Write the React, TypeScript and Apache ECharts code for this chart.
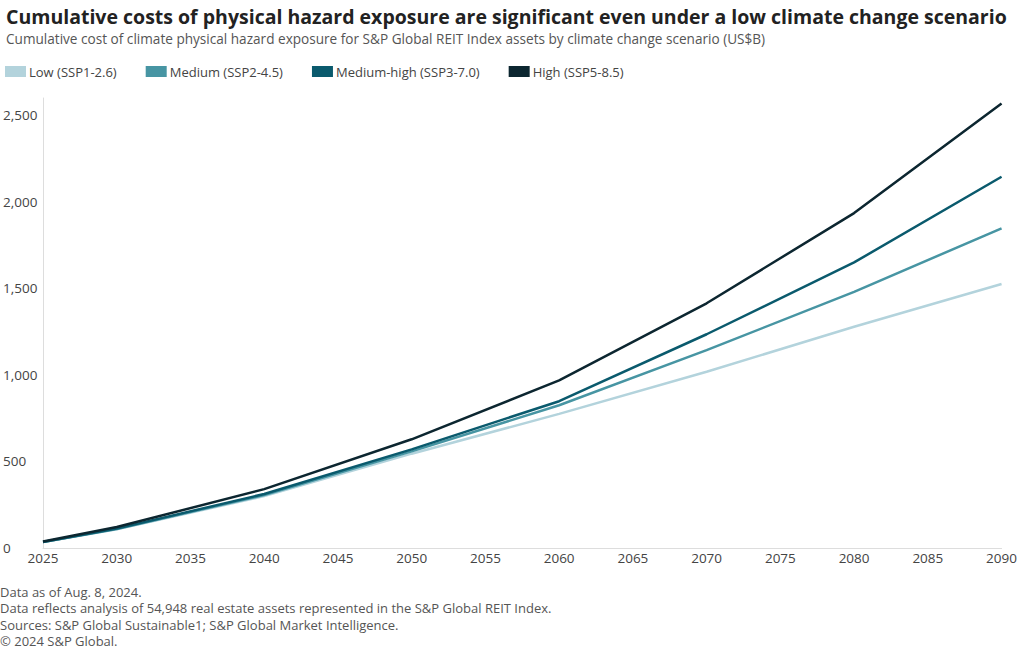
import React, { useEffect, useRef } from "react";
import * as echarts from "echarts";

const years = [2025, 2030, 2040, 2050, 2060, 2070, 2080, 2090];
const lowValues = [35, 108, 300, 545, 775, 1018, 1278, 1525];
const mediumValues = [35, 110, 306, 558, 825, 1143, 1480, 1847];
const mediumHighValues = [35, 112, 312, 570, 848, 1235, 1650, 2145];
const highValues = [38, 121, 340, 628, 968, 1414, 1935, 2568];

const seriesNames = ["Low (SSP1-2.6)", "Medium (SSP2-4.5)", "Medium-high (SSP3-7.0)", "High (SSP5-8.5)"];
const seriesColors = ["#b3d3dc", "#4795a3", "#0a5a6d", "#0c2630"];

const titleText = "Cumulative costs of physical hazard exposure are significant even under a low climate change scenario";
const subtitleText = "Cumulative cost of climate physical hazard exposure for S&P Global REIT Index assets by climate change scenario (US$B)";
const footnotes = [
  "Data as of Aug. 8, 2024.",
  "Data reflects analysis of 54,948 real estate assets represented in the S&P Global REIT Index.",
  "Sources: S&P Global Sustainable1; S&P Global Market Intelligence.",
  "© 2024 S&P Global.",
];

const FONT = "'Open Sans', 'Noto Sans', sans-serif";

export default function App() {
  const ref = useRef<HTMLDivElement>(null);
  useEffect(() => {
    document.body.style.margin = "0";
    const chart = echarts.init(ref.current!, null, { renderer: "svg" });
    const allValues = [lowValues, mediumValues, mediumHighValues, highValues];
    chart.setOption({
      animation: false,
      textStyle: { fontFamily: FONT },
      title: [
        {
          text: titleText,
          left: 1,
          top: 1,
          textStyle: { fontSize: 19.5, fontWeight: "bold", color: "#222", fontFamily: FONT },
        },
        {
          text: subtitleText,
          left: 1,
          top: 26,
          textStyle: { fontSize: 13.6, fontWeight: "normal", color: "#555", fontFamily: FONT },
        },
      ],
      legend: {
        left: 0,
        top: 60,
        icon: "rect",
        itemWidth: 21,
        itemHeight: 11,
        itemGap: 29,
        textStyle: { fontSize: 13, color: "#444", fontFamily: FONT, padding: [0, 0, 0, -2] },
        data: seriesNames,
      },
      grid: { left: 42, right: 18, top: 98, bottom: 102, containLabel: false },
      xAxis: {
        type: "value",
        min: 2025,
        max: 2090,
        interval: 5,
        axisLine: { show: true, lineStyle: { color: "#ddd" } },
        axisTick: { show: false },
        splitLine: { show: false },
        axisLabel: {
          color: "#444",
          fontSize: 13.5,
          margin: 3,
          formatter: (v: number) => String(v),
        },
      },
      yAxis: {
        type: "value",
        min: 0,
        max: 2600,
        interval: 500,
        axisLine: { show: true, lineStyle: { color: "#ddd" } },
        axisTick: { show: false },
        splitLine: { show: false },
        axisLabel: {
          color: "#444",
          fontSize: 13.5,
          align: "left",
          margin: 40,
          showMaxLabel: false,
          formatter: (v: number) => (v % 500 === 0 ? v.toLocaleString("en-US") : ""),
        },
      },
      series: seriesNames.map((name, i) => ({
        name,
        type: "line",
        data: years.map((y, j) => [y, allValues[i][j]]),
        showSymbol: false,
        symbol: "none",
        lineStyle: { width: 2.5, color: seriesColors[i] },
        itemStyle: { color: seriesColors[i] },
        z: 2 + i,
      })),
      graphic: footnotes.map((t, i) => ({
        type: "text",
        left: 0,
        top: 585 + i * 16.5,
        style: { text: t, fontSize: 13, fill: "#555", fontFamily: FONT },
      })),
    });
    return () => chart.dispose();
  }, []);
  return <div ref={ref} style={{ width: 1020, height: 650 }} />;
}
